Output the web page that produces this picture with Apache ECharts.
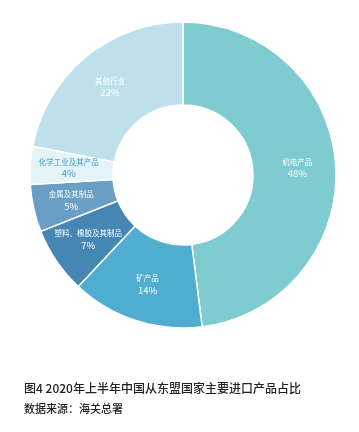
<!DOCTYPE html>
<html><head><meta charset="utf-8">
<script src="https://cdn.jsdelivr.net/npm/echarts@6/dist/echarts.min.js"></script>
<style>html,body{margin:0;padding:0;background:#fff}#c{width:359px;height:432px}</style>
</head><body><div id="c"></div>
<script>
const categories = ['机电产品','矿产品','塑料、橡胶及其制品','金属及其制品','化学工业及其产品','其他行业'];
const values = [48,14,7,5,4,22];
const colors = ['#7ecbd0','#4fadcf','#4586b4','#6a9fc5','#e4f3f8','#bde0ea'];
const labelColors = ['#fff','#fff','#fff','#fff','#3d9bd0','#fff'];
const chart = echarts.init(document.getElementById('c'));
chart.setOption({
  animation:false,
  title:[
    {text:'图4 2020年上半年中国从东盟国家主要进口产品占比', left:19, top:377, textStyle:{fontSize:12,fontWeight:500,color:'#222',fontFamily:'Noto Sans CJK SC'}},
    {text:'数据来源：海关总署', left:19, top:398, textStyle:{fontSize:11,fontWeight:500,color:'#222',fontFamily:'Noto Sans CJK SC'}}
  ],
  series:[{
    type:'pie', center:[183,175], radius:[70,153], startAngle:90, clockwise:true,
    itemStyle:{borderColor:'#fff',borderWidth:1.5},
    label:{position:'inside', formatter:'{n|{b}}\n{p|{c}%}',
      rich:{n:{fontSize:7.5,fontFamily:'Noto Sans CJK SC',lineHeight:12},p:{fontSize:9.5,fontFamily:'Noto Sans CJK SC',lineHeight:12}}},
    labelLine:{show:false},
    data: categories.map((n,i)=>({name:n,value:values[i],itemStyle:{color:colors[i]},label:{color:labelColors[i]}}))
  }]
});
</script></body></html>
